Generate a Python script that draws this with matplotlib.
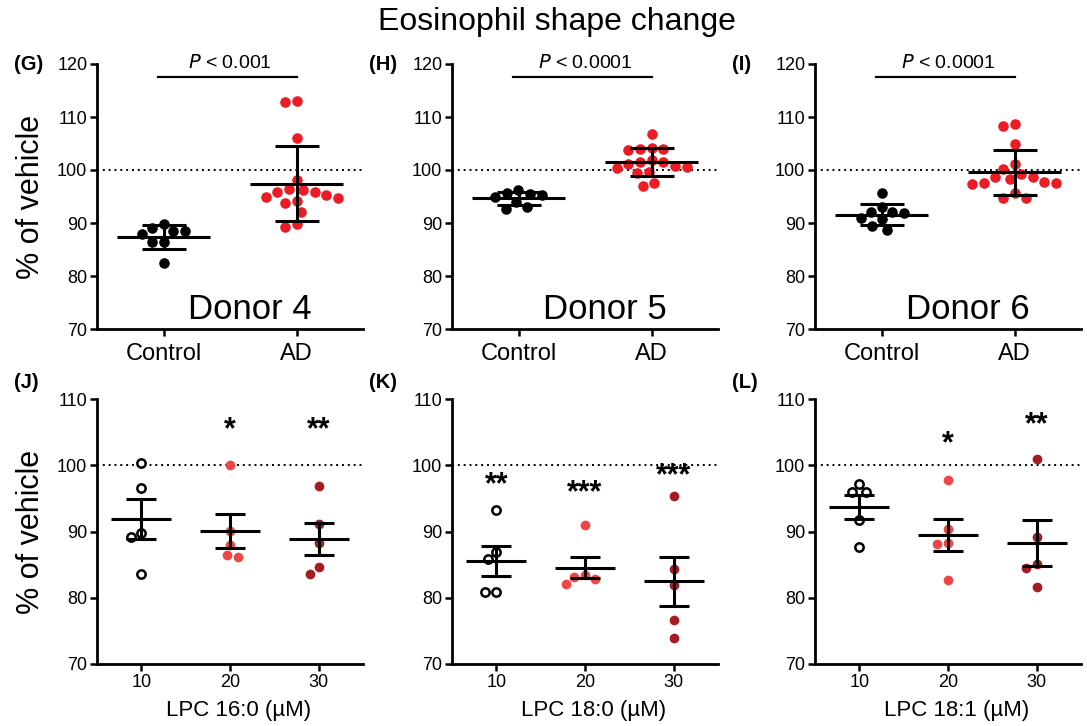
"""Eosinophil shape change: donor scatter plots and LPC dose panels."""

import matplotlib
matplotlib.use("Agg")
import matplotlib.pyplot as plt
import numpy as np

plt.rcParams['font.family'] = ['Liberation Sans', 'DejaVu Sans']

# Top row: % of vehicle, Control vs AD eosinophils, one panel per donor
groups = ["Control", "AD"]
donor4_control = [88.4, 89.1, 89.8, 88.5, 87.9, 86.4, 86.4, 82.5]
donor4_ad = [113.1, 112.8, 106.0, 98.2, 96.5, 95.9, 95.9, 96.3,
             95.3, 94.2, 94.8, 93.7, 95.0, 92.1, 89.9, 89.3]
donor5_control = [96.2, 95.7, 95.4, 95.2, 95.0, 94.0, 93.1, 92.6]
donor5_ad = [106.8, 104.2, 104.0, 104.0, 103.8, 101.8, 101.6, 101.5,
             101.2, 100.8, 100.6, 100.3, 99.6, 99.4, 97.6, 97.0]
donor6_control = [95.6, 93.1, 92.0, 92.1, 91.8, 90.7, 90.9, 89.4, 88.7]
donor6_ad = [108.3, 108.7, 104.9, 100.2, 101.1, 98.7, 98.3, 98.7,
             97.8, 97.6, 97.4, 97.6, 95.6, 94.8, 94.8, 99.2]
donor_names = ["Donor 4", "Donor 5", "Donor 6"]
p_values = ["0.001", "0.0001", "0.0001"]

# Bottom row: % of vehicle per LPC concentration (uM)
concentrations = [10, 20, 30]
lpc_160 = [[100.4, 96.5, 89.75, 89.15, 83.6],
           [100.0, 90.15, 88.0, 86.1, 86.4],
           [96.8, 91.1, 88.2, 84.7, 83.6]]
lpc_180 = [[93.2, 86.9, 85.8, 80.85, 80.85],
           [91.0, 83.2, 82.1, 82.9, 83.5],
           [95.4, 84.3, 81.9, 76.7, 74.0]]
lpc_181 = [[97.2, 95.9, 95.9, 91.7, 87.6],
           [97.8, 90.35, 88.3, 88.1, 82.7],
           [101.0, 89.1, 85.1, 84.5, 81.6]]
lpc_names = ["LPC 16:0 (\u00b5M)", "LPC 18:0 (\u00b5M)", "LPC 18:1 (\u00b5M)"]
lpc_stars = [["", "*", "**"], ["**", "***", "***"], ["", "*", "**"]]

RED = "#ec1c24"
LIGHT_RED = "#ee4646"
DARK_RED = "#a51c22"


def swarm_offsets(ax, x0, values, spacing_px):
    """Simple beeswarm: x positions in data units so markers do not overlap."""
    trans = ax.transData
    order = np.argsort(values)[::-1]
    pts = trans.transform(np.column_stack([np.full(len(values), x0), values]))
    placed = []
    xs = np.zeros(len(values))
    for i in order:
        py = pts[i, 1]
        cands = [0.0]
        for (qx, qy) in placed:
            dy = abs(py - qy)
            if dy < spacing_px:
                dx = np.sqrt(spacing_px ** 2 - dy ** 2)
                cands += [qx + dx, qx - dx]
        cands = sorted(cands, key=lambda c: (abs(c), c))
        for c in cands:
            if all((c - qx) ** 2 + (py - qy) ** 2 >= spacing_px ** 2 - 1e-6
                   for (qx, qy) in placed):
                xs[i] = c
                placed.append((c, py))
                break
    x_px = pts[0, 0] + xs
    inv = trans.inverted()
    return inv.transform(np.column_stack([x_px, pts[:, 1]]))[:, 0]


def style_axes(ax):
    for side in ["top", "right"]:
        ax.spines[side].set_visible(False)
    for side in ["left", "bottom"]:
        ax.spines[side].set_linewidth(2)
    ax.tick_params(direction="out", length=5, width=1.8, labelsize=13, pad=2)


fig = plt.figure(figsize=(10.87, 7.26), dpi=100)
W, H = 1087, 726
lefts = [97, 452, 815]
top_data = [(donor4_control, donor4_ad), (donor5_control, donor5_ad),
            (donor6_control, donor6_ad)]
panel_top = ["(G)", "(H)", "(I)"]
panel_bot = ["(J)", "(K)", "(L)"]
label_x = [14, 369, 732]

for k in range(3):
    ax = fig.add_axes([lefts[k] / W, 1 - 329 / H, 266 / W, 265 / H])
    ax.set_xlim(-0.5, 1.5)
    ax.set_ylim(70, 120)
    style_axes(ax)
    ax.set_yticks(range(70, 121, 10))
    ax.set_xticks([0, 1])
    ax.set_xticklabels(groups, fontsize=17)
    ax.tick_params(axis="x", pad=5)
    ax.axhline(100, color="black", linestyle=(0, (1, 2)), lw=1.4, zorder=1)
    for j, (vals, col) in enumerate(zip(top_data[k], ["black", RED])):
        vals = np.array(vals)
        xs = swarm_offsets(ax, j, vals, 12)
        ax.plot(xs, vals, "o", ms=7.6, color=col, mec="none", zorder=2,
                clip_on=False)
        m, sd = vals.mean(), vals.std(ddof=1)
        ax.hlines(m, j - 0.35, j + 0.35, color="black", lw=2.2, zorder=3)
        ax.errorbar(j, m, yerr=sd, fmt="none", ecolor="black", elinewidth=2.2,
                    capsize=16, capthick=2.2, zorder=3)
    ax.plot([-0.04, 1.0], [117.6, 117.6], color="black", lw=1.6,
            clip_on=False)
    ax.text(0.5, 118.5, f"$P$ < {p_values[k]}", ha="center", va="bottom",
            fontsize=14)
    ax.text(0.65, 73.6, donor_names[k], ha="center", va="center",
            fontsize=25)
    if k == 0:
        ax.set_ylabel("% of vehicle", fontsize=22, labelpad=8)
    fig.text(label_x[k] / W, 1 - 64 / H, panel_top[k], fontsize=14.5,
             fontweight="bold", va="center")

lpc_data = [lpc_160, lpc_180, lpc_181]
star_heights = [[0, 105.3, 105.3], [97.0, 95.8, 98.3], [0, 103.1, 106.1]]
colors = ["white", LIGHT_RED, DARK_RED]
for k in range(3):
    ax = fig.add_axes([lefts[k] / W, 1 - 664 / H, 266 / W, 265 / H])
    ax.set_xlim(5, 35)
    ax.set_ylim(70, 110)
    style_axes(ax)
    ax.set_yticks(range(70, 111, 10))
    ax.set_xticks(concentrations)
    ax.set_xlabel(lpc_names[k], fontsize=16)
    ax.xaxis.set_label_coords(0.534, -0.135)
    ax.axhline(100, color="black", linestyle=(0, (1, 2)), lw=1.4, zorder=1)
    for j, conc in enumerate(concentrations):
        vals = np.array(lpc_data[k][j])
        xs = swarm_offsets(ax, conc, vals, 11)
        if j == 0:
            ax.plot(xs, vals, "o", ms=6, mfc="white", mec="black", mew=1.8,
                    zorder=2)
        else:
            ax.plot(xs, vals, "o", ms=7, color=colors[j], mec="none",
                    zorder=2)
        m = vals.mean()
        sem = vals.std(ddof=1) / np.sqrt(len(vals))
        ax.hlines(m, conc - 3.4, conc + 3.4, color="black", lw=2.2, zorder=3)
        ax.errorbar(conc, m, yerr=sem, fmt="none", ecolor="black",
                    elinewidth=2.2, capsize=10.5, capthick=2.2, zorder=3)
        if lpc_stars[k][j]:
            ax.text(conc, star_heights[k][j], lpc_stars[k][j], ha="center",
                    va="center", fontsize=22, fontweight="bold")
    if k == 0:
        ax.set_ylabel("% of vehicle", fontsize=22, labelpad=8)
    fig.text(label_x[k] / W, 1 - 383 / H, panel_bot[k], fontsize=14.5,
             fontweight="bold", va="center")

fig.text(557 / W, 1 - 22 / H, "Eosinophil shape change", ha="center",
         va="center", fontsize=23)

fig.savefig("out.png", dpi=100)
